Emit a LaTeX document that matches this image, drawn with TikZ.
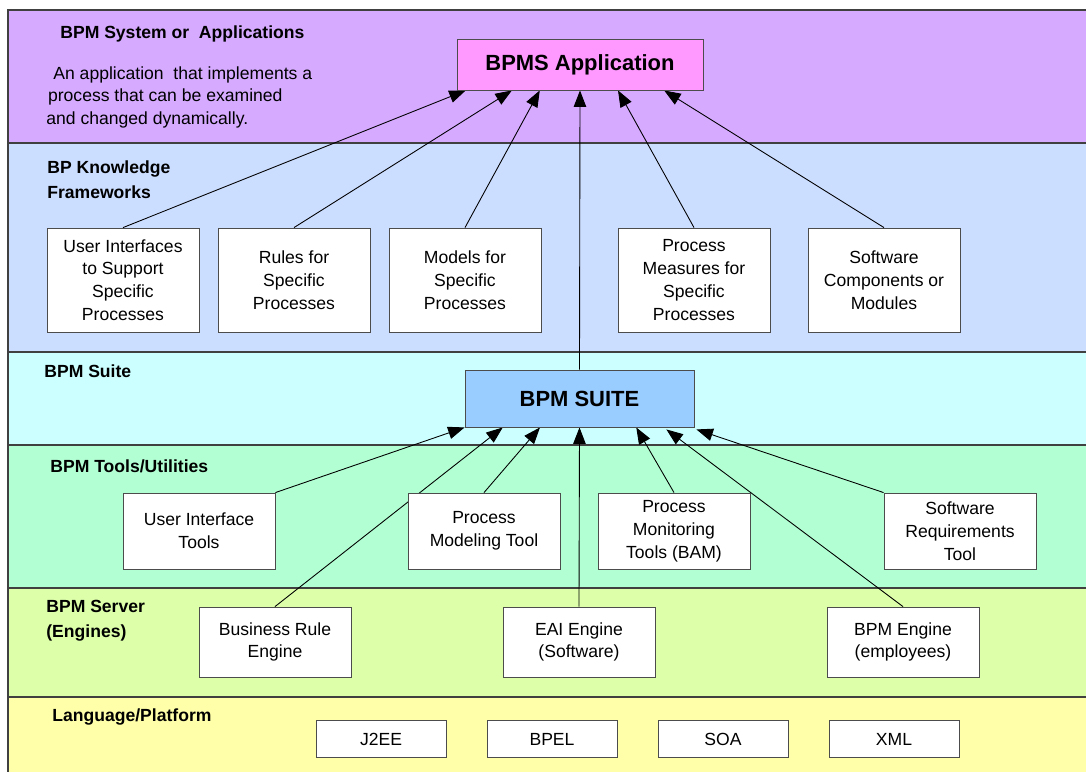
\documentclass[tikz,border=0pt]{standalone}
\usepackage{fontspec}
\setmainfont{Liberation Sans}
\usetikzlibrary{arrows.meta,calc}

\definecolor{appband}{RGB}{214,170,255}
\definecolor{kbband}{RGB}{204,222,255}
\definecolor{suiteband}{RGB}{204,255,255}
\definecolor{toolband}{RGB}{179,255,212}
\definecolor{serverband}{RGB}{221,255,170}
\definecolor{langband}{RGB}{255,255,170}
\definecolor{appfill}{RGB}{255,153,255}
\definecolor{suitefill}{RGB}{153,204,255}

\pgfdeclarelayer{back}
\pgfdeclarelayer{links}
\pgfsetlayers{back,links,main}

\begin{document}
\begin{tikzpicture}[
  x=0.02cm, y=-0.02cm,
  band/.style={draw=black!75, line width=0.7pt},
  label/.style={font=\bfseries\fontsize{10}{14}\selectfont, anchor=west, align=left, inner sep=0pt},
  note/.style={font=\fontsize{10}{12.8}\selectfont, anchor=north west, align=left, inner sep=0pt},
  box/.style={draw=black!70, fill=white, line width=0.5pt, align=center,
    font=\fontsize{10}{13}\selectfont, inner sep=1pt, minimum width=3.04cm},
  kbbox/.style={box, minimum height=2.08cm},
  toolbox/.style={box, minimum height=1.52cm},
  enginebox/.style={box, minimum height=1.4cm},
  langbox/.style={box, minimum width=2.6cm, minimum height=0.74cm},
  link/.style={-{Triangle[length=3.3mm,width=2.5mm]}, line width=0.5pt},
]
\useasboundingbox (0,0) rectangle (1086,772);

% Layers of the stack
\begin{pgfonlayer}{back}
\fill[appband] (8,10) rectangle (1086,143);
\fill[kbband] (8,143) rectangle (1086,352);
\fill[suiteband] (8,352) rectangle (1086,445);
\fill[toolband] (8,445) rectangle (1086,588);
\fill[serverband] (8,588) rectangle (1086,697);
\fill[langband] (8,697) rectangle (1086,772);
\draw[band] (1086,10) -- (8,10) -- (8,772);
\foreach \y in {143,352,445,588,697} {
  \draw[band] (8,\y) -- (1086,\y);
}
\end{pgfonlayer}

% Layer titles
\node[label] (appTitle) at (60,34) {BPM System or\ \ Applications};
\node[note] (appNote) at (46,66)
  {\hspace*{4pt}An application\ \ that implements a\\
   \hspace*{1pt}process that can be examined\\
   and changed dynamically.};
\node[label] (kbTitle) at (47,180) {BP Knowledge\\Frameworks};
\node[label] (suiteTitle) at (44,371) {BPM Suite};
\node[label] (toolTitle) at (50,466) {BPM Tools/Utilities};
\node[label] (serverTitle) at (46,621) {BPM Server\\(Engines)};
\node[label] (langTitle) at (52,717) {Language/Platform};

% Application and suite
\node[box, fill=appfill, minimum width=4.92cm, minimum height=1.02cm,
  font=\bfseries\fontsize{12.5}{15}\selectfont] (app) at (580,64.5) {BPMS Application};
\node[box, fill=suitefill, minimum width=4.58cm, minimum height=1.14cm,
  font=\bfseries\fontsize{12.5}{15}\selectfont] (suite) at (579.5,398.5) {BPM SUITE};

% Knowledge frameworks
\node[kbbox] (uiSupport) at (123,280) {User Interfaces\\to Support\\Specific\\Processes};
\node[kbbox] (rules) at (294,280) {Rules for\\Specific\\Processes};
\node[kbbox] (models) at (465,280) {Models for\\Specific\\Processes};
\node[kbbox] (measures) at (694,280) {Process\\Measures for\\Specific\\Processes};
\node[kbbox] (components) at (884,280) {Software\\Components or\\Modules};

% Tools
\node[toolbox] (uiTools) at (199,531) {User Interface\\Tools};
\node[toolbox] (modeling) at (484,531) {Process\\Modeling Tool};
\node[toolbox] (monitoring) at (674,531) {Process\\Monitoring\\Tools (BAM)};
\node[toolbox] (requirements) at (960,531) {Software\\Requirements\\Tool};

% Engines
\node[enginebox] (ruleEngine) at (275,642) {Business Rule\\Engine};
\node[enginebox] (eaiEngine) at (579,642) {EAI Engine\\(Software)};
\node[enginebox] (bpmEngine) at (903,642) {BPM Engine\\(employees)};

% Platforms
\node[langbox] (j2ee) at (381,739) {J2EE};
\node[langbox] (bpel) at (552,739) {BPEL};
\node[langbox] (soa) at (723,739) {SOA};
\node[langbox] (xml) at (894,739) {XML};

% Arrows into the application
\begin{pgfonlayer}{links}
\draw[link] (uiSupport.north) -- ($(app.south west)!0.037!(app.south east)$);
\draw[link] (rules.north) -- ($(app.south west)!0.224!(app.south east)$);
\draw[link] (models.north) -- ($(app.south west)!0.337!(app.south east)$);
\draw[link] (suite.north) -- (app.south);
\draw[link] (measures.north) -- ($(app.south west)!0.654!(app.south east)$);
\draw[link] (components.north) -- ($(app.south west)!0.841!(app.south east)$);

% Arrows into the suite
\draw[link] (uiTools.north east) -- (suite.south west);
\draw[link] (ruleEngine.north) -- ($(suite.south west)!0.166!(suite.south east)$);
\draw[link] (modeling.north) -- ($(suite.south west)!0.328!(suite.south east)$);
\draw[link] (eaiEngine.north) -- (suite.south);
\draw[link] (monitoring.north) -- ($(suite.south west)!0.747!(suite.south east)$);
\draw[link] (bpmEngine.north) -- ($(suite.south west)!0.878!(suite.south east)+(0,2)$);
\draw[link] (requirements.north west) -- ($(suite.south east)+(2,2)$);
\end{pgfonlayer}

\end{tikzpicture}
\end{document}
